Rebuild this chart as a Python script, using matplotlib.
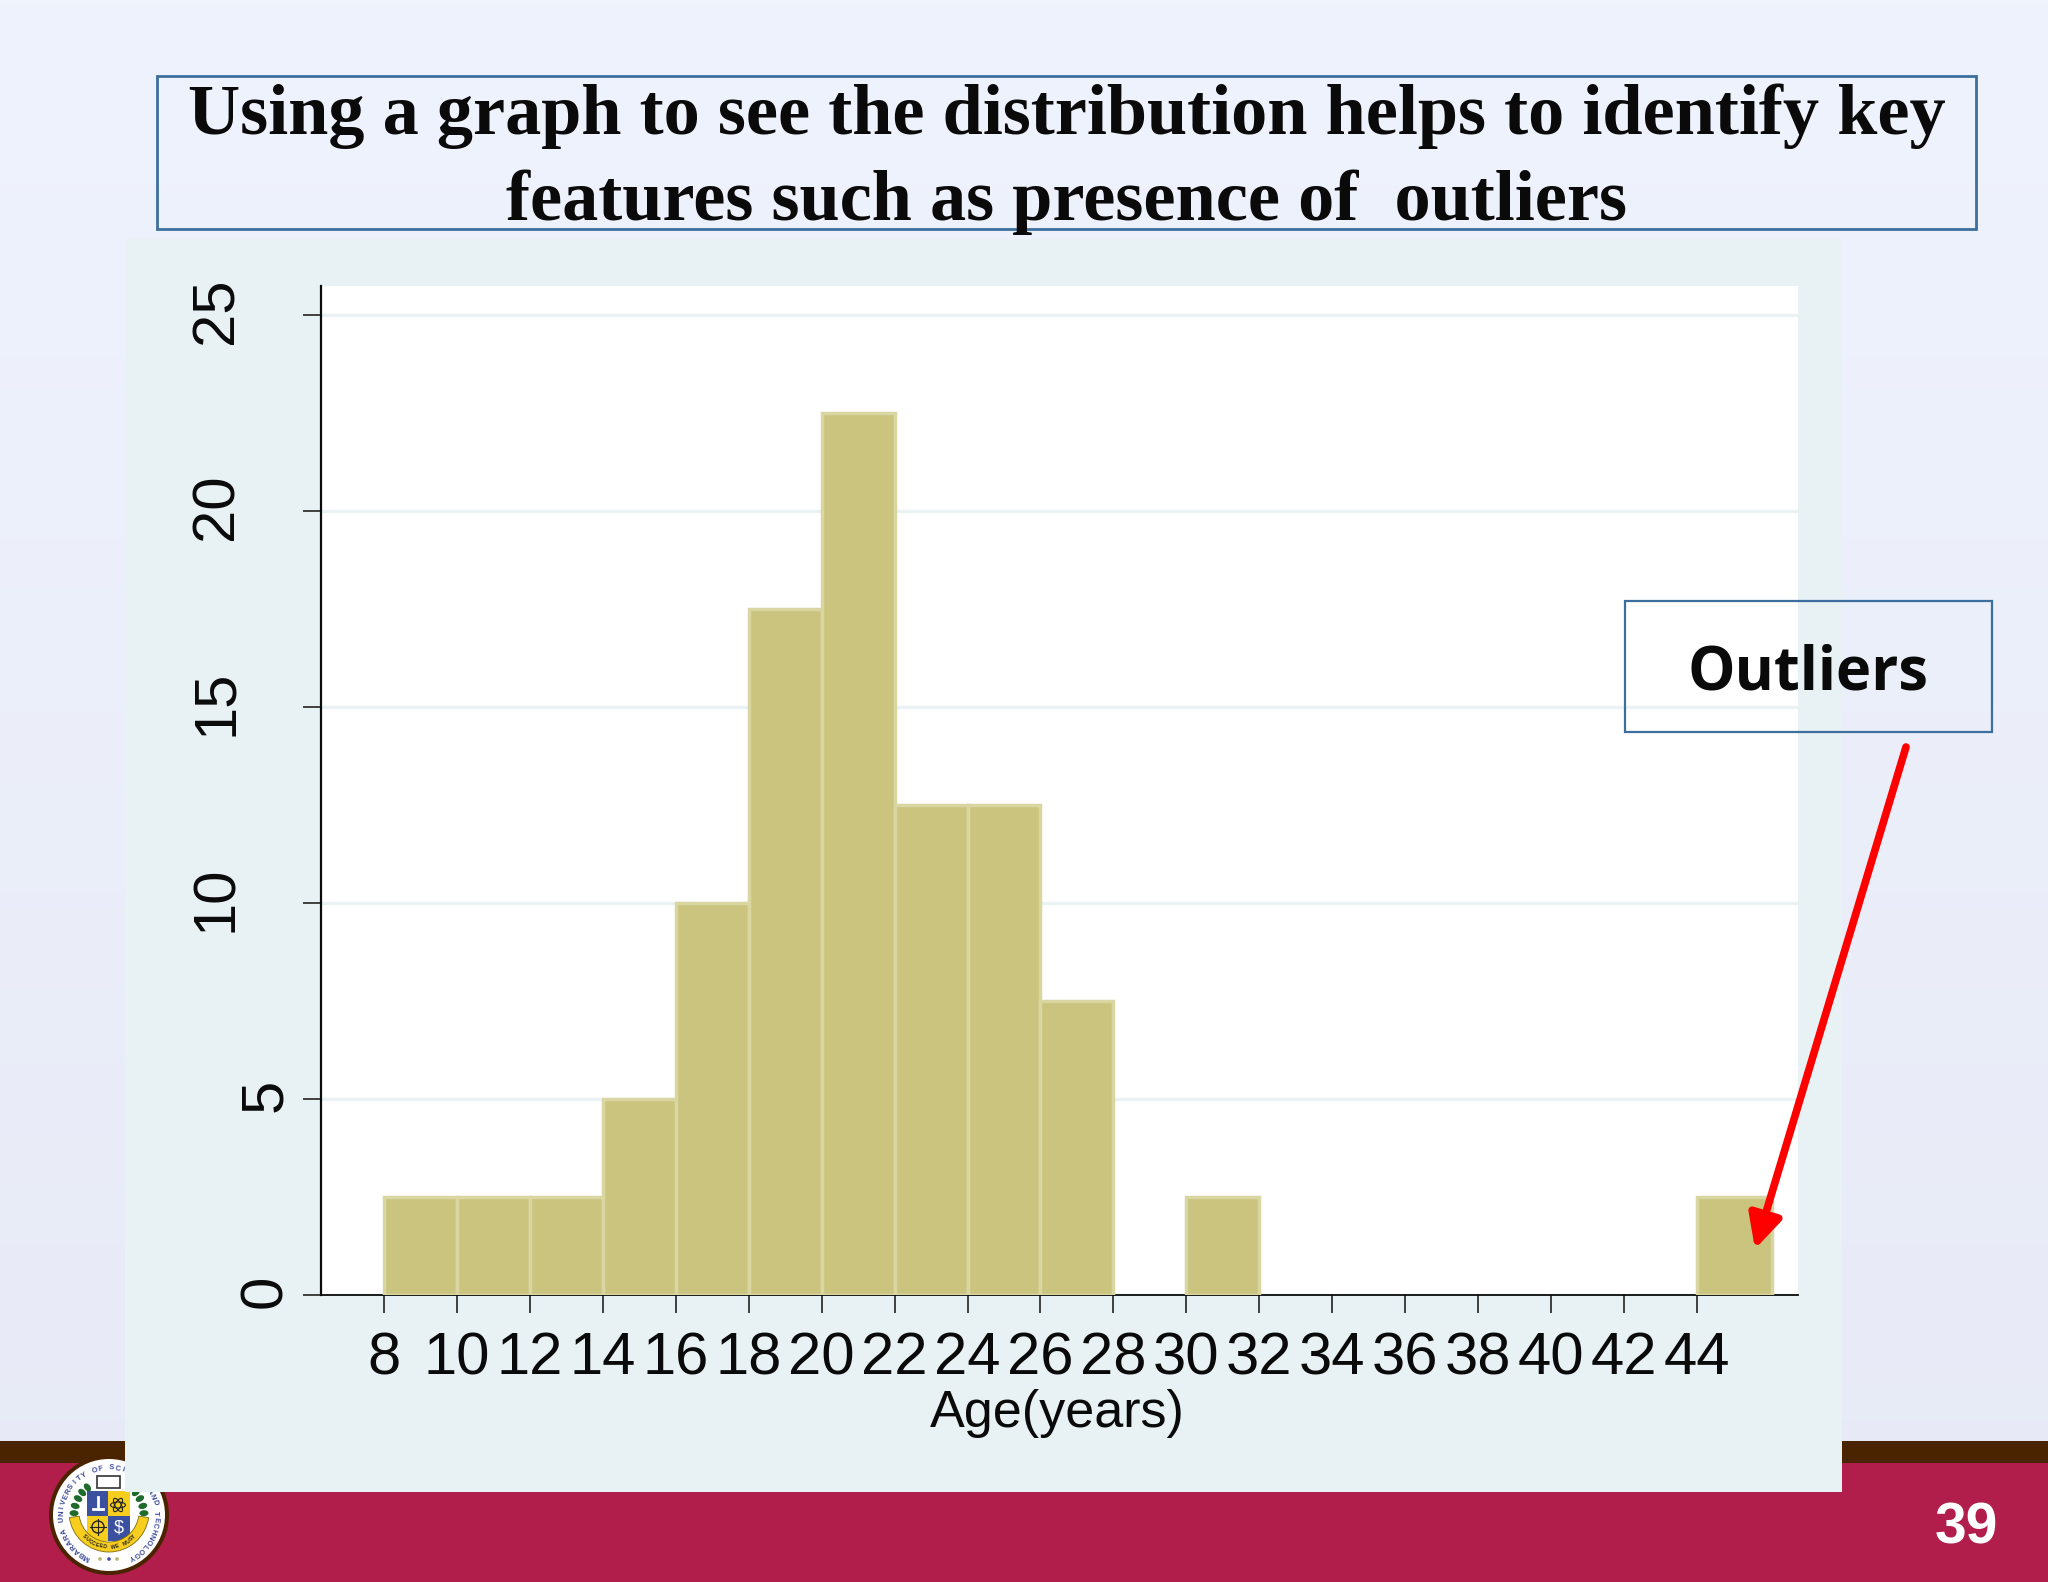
import numpy as np
import matplotlib
matplotlib.use("Agg")
import matplotlib.pyplot as plt
from matplotlib.patches import Rectangle, Circle, FancyArrowPatch, Wedge, Ellipse
from matplotlib.transforms import Affine2D

bin_left = [8, 10, 12, 14, 16, 18, 20, 22, 24, 26, 30, 44]
percent = [2.5, 2.5, 2.5, 5, 10, 17.5, 22.5, 12.5, 12.5, 7.5, 2.5, 2.5]
bin_widths = [2, 2, 2, 2, 2, 2, 2, 2, 2, 2, 2, 2.07]
x_ticks = list(range(8, 46, 2))
y_ticks = [0, 5, 10, 15, 20, 25]
title_lines = ["Using a graph to see the distribution helps to identify key",
               "features such as presence of  outliers"]

W, H = 2048, 1582
fig = plt.figure(figsize=(W / 100, H / 100), dpi=100)

def px_axes(z):
    a = fig.add_axes([0, 0, 1, 1], zorder=z)
    a.set_xlim(0, W); a.set_ylim(H, 0); a.axis("off")
    a.patch.set_alpha(0)
    return a

bg = px_axes(0)
top = np.array([0.937, 0.953, 0.992]); bot = np.array([0.906, 0.918, 0.965])
grad = np.linspace(0, 1, 256)[:, None, None] * (bot - top) + top
bg.imshow(grad, extent=[0, W, H, 0], aspect="auto", zorder=0)
bg.set_xlim(0, W); bg.set_ylim(H, 0)
bg.add_patch(Rectangle((0, 1441), W, 24, fc="#4A2400", ec="none", zorder=1))
bg.add_patch(Rectangle((0, 1463), W, H - 1463, fc="#B11E4B", ec="none", zorder=2))
bg.text(1966, 1529, "39", color="white", fontsize=41, fontweight="bold",
        family="Liberation Sans", ha="center", va="center", zorder=3)

# crest
cx, cy = 109, 1515
bg.add_patch(Circle((cx, cy), 60, fc="#4A2400", ec="none", zorder=3))
bg.add_patch(Circle((cx, cy), 56, fc="white", ec="none", zorder=3))
blue, gold = "#3C50A0", "#F8CE1E"
for (x0, y0, c) in [(87, 1491, blue), (108, 1491, gold), (87, 1516, gold), (108, 1516, blue)]:
    bg.add_patch(Rectangle((x0, y0), 21.5, 25, fc=c, ec="none", zorder=4))
bg.add_patch(Wedge((cx, 1512), 40, 8, 172, width=10, fc=gold, ec="#7a6a10", lw=0.6, zorder=5))
bg.add_patch(Rectangle((97, 1476), 23, 12, fc="white", ec="#333333", lw=1.2, zorder=4))
for sign in (-1, 1):
    for deg in (38, 50, 62, 75, 87):
        t = np.radians(sign * deg)
        bg.add_patch(Ellipse((cx + 35 * np.sin(t), cy - 35 * np.cos(t)), 6, 9, angle=sign * deg,
                             fc="#1F6B2B", ec="none", zorder=4))
# shield emblems
bg.add_patch(Circle((98, 1527), 6, fc="none", ec="#222222", lw=1, zorder=6))
bg.plot([90, 106], [1527, 1527], color="#222222", lw=0.8, zorder=6)
bg.plot([98, 98], [1519, 1535], color="#222222", lw=0.8, zorder=6)
for ang in (0, 60, 120):
    bg.add_patch(Ellipse((118, 1505), 15, 6, angle=ang, fc="none", ec="#222222", lw=0.8, zorder=6))
bg.text(119, 1528, "$", color="white", fontsize=13, ha="center", va="center",
        family="Liberation Sans", zorder=6)
bg.plot([93, 103], [1509, 1509], color="white", lw=2, zorder=6)
bg.plot([98, 98], [1497, 1509], color="white", lw=2, zorder=6)
for x0, c in [(100, "#B8B46A"), (109, "#3C50A0"), (117, "#B8B46A")]:
    bg.add_patch(Circle((x0, 1559), 1.8, fc=c, ec="none", zorder=6))
crest = "MBARARA UNIVERSITY OF SCIENCE AND TECHNOLOGY"
for ch, th in zip(crest, np.radians(np.linspace(-152, 152, len(crest)))):
    bg.text(cx + 47 * np.sin(th), cy - 47 * np.cos(th), ch, fontsize=5.5, color="#3C4A9A",
            rotation=-np.degrees(th), rotation_mode="anchor", ha="center", va="center",
            family="Liberation Sans", fontweight="bold", zorder=5)
motto = "SUCCEED WE MUST"
for ch, ph in zip(motto, np.radians(np.linspace(-46, 46, len(motto)))):
    bg.text(cx + 35 * np.sin(ph), 1512 + 35 * np.cos(ph), ch, fontsize=3.8, color="#222222",
            rotation=np.degrees(ph), rotation_mode="anchor", ha="center", va="center",
            family="Liberation Sans", fontweight="bold", zorder=6)

bg.add_patch(Rectangle((125, 239), 1717, 1253, fc="#E8F1F3", ec="none", zorder=8))
bg.add_patch(Rectangle((157, 76), 1819, 153, fc="none", ec="#3D6F9E", lw=2, zorder=8))
for line, y in zip(title_lines, [116, 202]):
    bg.text(1067, y, line, family="Liberation Serif", fontweight="bold", fontsize=52,
            color="#0A0A0A", ha="center", va="center", zorder=9)

L, R, T, B = 321, 1798, 286, 1295
ax = fig.add_axes([L / W, 1 - B / H, (R - L) / W, (B - T) / H], zorder=5)
ax.set_facecolor("white")
ax.set_xlim(8 - (384 - L) / 36.47, 44 + (R - 1697) / 36.47)
ax.set_ylim(0, (B - T) / 39.2)
ax.yaxis.grid(True, color="#EBF2F3", lw=2.4)
ax.set_axisbelow(True)
ax.bar(bin_left, percent, width=bin_widths, align="edge", color="#CAC47E", edgecolor="#D9D6A2", linewidth=2.5, zorder=3)
for s in ["top", "right"]:
    ax.spines[s].set_visible(False)
ax.spines["left"].set_color("#0A0A0A"); ax.spines["left"].set_linewidth(1.6)
ax.spines["bottom"].set_color("#0A0A0A"); ax.spines["bottom"].set_linewidth(1.3)
ax.set_xticks(x_ticks)
ax.set_yticks(y_ticks)
ax.tick_params(axis="both", length=13, width=1.1, color="#111111", labelsize=43, labelcolor="#0A0A0A")
ax.tick_params(axis="x", pad=13)
ax.tick_params(axis="y", pad=7)
for t in ax.get_xticklabels() + ax.get_yticklabels():
    t.set_family("Liberation Sans")
for t, v in zip(ax.get_yticklabels(), y_ticks):
    t.set_rotation(90); t.set_va("center")
    dx = -49 if v >= 10 else 0
    t.set_transform(t.get_transform() + Affine2D().translate(dx, 4))
ax.set_xlabel("Age(years)", family="Liberation Sans", fontsize=37.5, color="#0A0A0A")
ax.xaxis.set_label_coords((1057 - L) / (R - L), (B - 1414) / (B - T))
ax.xaxis.label.set_va("center")

over = px_axes(10)
over.add_patch(Rectangle((1625, 601), 367, 131, fc="none", ec="#3D6F9E", lw=1.6))
over.text(1808, 674, "Outliers", family="Open Sans", fontweight="bold", fontsize=43, color="#0A0A0A", ha="center", va="center")
over.add_patch(FancyArrowPatch((1906, 747), (1755, 1249), arrowstyle="-|>,head_length=1.0,head_width=0.5",
                               mutation_scale=20, color="#FF0000", lw=5.5, shrinkA=0, shrinkB=0))
fig.savefig("out.png", dpi=100)
